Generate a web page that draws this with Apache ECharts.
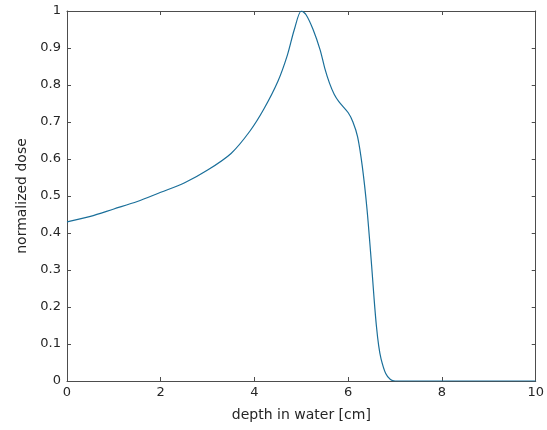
<!DOCTYPE html>
<html>
<head>
<meta charset="utf-8">
<script src="https://cdn.jsdelivr.net/npm/echarts@6/dist/echarts.min.js"></script>
<style>
  html, body { margin: 0; padding: 0; background: #fff; }
  #main { width: 547px; height: 430px; }
</style>
</head>
<body>
<div id="main"></div>
<script>
    // depth [cm] and normalized dose
    var depth = [0, 0.5, 1, 1.5, 2, 2.5, 3, 3.5, 3.9, 4.2, 4.5, 4.7, 4.85, 5.0, 5.1, 5.25, 5.4, 5.5, 5.6, 5.7, 5.8, 6.0, 6.1, 6.2, 6.3, 6.4, 6.5, 6.55, 6.6, 6.65, 6.7, 6.8, 6.9, 7.0, 8, 9, 10];
    var dose = [0.43, 0.445, 0.465, 0.485, 0.51, 0.535, 0.57, 0.615, 0.675, 0.735, 0.81, 0.88, 0.95, 1.0, 0.99, 0.95, 0.895, 0.845, 0.805, 0.775, 0.755, 0.725, 0.7, 0.66, 0.58, 0.465, 0.31, 0.225, 0.15, 0.095, 0.06, 0.02, 0.004, 0, 0, 0, 0];
    var points = depth.map(function (d, i) { return [d, dose[i]]; });

    var myChart = echarts.init(document.getElementById('main'));

    var axisCol = '#4d4d4d';
    var txtCol = '#262626';
    var fontFam = 'DejaVu Sans, sans-serif';

    var option = {
        backgroundColor: '#fff',
        animation: false,
        grid: {
            left: 67,
            right: 10,
            top: 11,
            bottom: 49
        },
        xAxis: [{
            type: 'value',
            min: 0,
            max: 10,
            interval: 2,
            name: 'depth in water [cm]',
            nameLocation: 'middle',
            nameGap: 27,
            nameTextStyle: { color: txtCol, fontSize: 14, fontFamily: fontFam },
            axisLine: { onZero: false, lineStyle: { color: axisCol } },
            axisTick: { inside: true, length: 4, lineStyle: { color: axisCol } },
            axisLabel: { color: txtCol, fontSize: 13, fontFamily: fontFam, margin: 5 },
            splitLine: { show: false }
        }, {
            type: 'value',
            position: 'top',
            min: 0,
            max: 10,
            interval: 2,
            axisLine: { show: true, onZero: false, lineStyle: { color: axisCol } },
            axisTick: { show: true, inside: true, length: 4, lineStyle: { color: axisCol } },
            axisLabel: { show: false },
            splitLine: { show: false }
        }],
        yAxis: [{
            type: 'value',
            min: 0,
            max: 1,
            interval: 0.1,
            name: 'normalized dose',
            nameLocation: 'middle',
            nameGap: 38,
            nameTextStyle: { color: txtCol, fontSize: 14, fontFamily: fontFam },
            axisLine: { show: true, onZero: false, lineStyle: { color: axisCol } },
            axisTick: { show: true, inside: true, length: 4, lineStyle: { color: axisCol } },
            axisLabel: { color: txtCol, fontSize: 13, fontFamily: fontFam, margin: 6 },
            splitLine: { show: false }
        }, {
            type: 'value',
            position: 'right',
            min: 0,
            max: 1,
            interval: 0.1,
            axisLine: { show: true, onZero: false, lineStyle: { color: axisCol } },
            axisTick: { show: true, inside: true, length: 4, lineStyle: { color: axisCol } },
            axisLabel: { show: false },
            splitLine: { show: false }
        }],
        series: [{
            type: 'line',
            data: points,
            smooth: 0.3,
            symbol: 'none',
            lineStyle: { color: '#1a6f9a', width: 1.2 }
        }]
    };
    myChart.setOption(option);
</script>
</body>
</html>
